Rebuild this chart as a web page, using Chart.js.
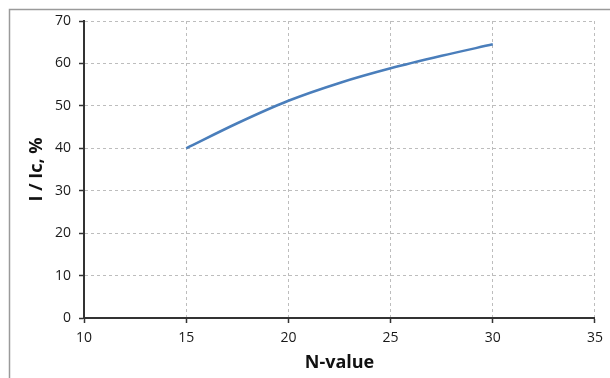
<!DOCTYPE html>
<html>
<head>
<meta charset="utf-8">
<script src="https://cdn.jsdelivr.net/npm/chart.js@4/dist/chart.umd.min.js"></script>
<style>
  html, body { margin: 0; padding: 0; background: #fff; }
  #wrap { position: relative; width: 610px; height: 378px; }
</style>
</head>
<body>
<div id="wrap"><canvas id="c"></canvas></div>
<script>
// N-value and the corresponding current ratio I / Ic in percent
const nValues = [15, 17.5, 20, 22.5, 25, 27.5, 30];
const currentRatio = [40, 45.9, 51.2, 55.4, 58.85, 61.8, 64.5];
const xTicks = [10, 15, 20, 25, 30, 35];
const yTicks = [0, 10, 20, 30, 40, 50, 60, 70];

const points = nValues.map((n, i) => ({ x: n, y: currentRatio[i] }));

// Outer frame of the chart area (top and left edges)
const framePlugin = {
  id: 'frame',
  beforeDraw(chart) {
    const ctx = chart.ctx;
    ctx.save();
    ctx.strokeStyle = '#9a9a9a';
    ctx.lineWidth = 1.5;
    ctx.beginPath();
    ctx.moveTo(9.5, chart.height);
    ctx.lineTo(9.5, 9.5);
    ctx.lineTo(chart.width, 9.5);
    ctx.stroke();
    ctx.restore();
  }
};

const tickFont = { family: "'Open Sans', 'Liberation Sans', sans-serif", size: 14 };
const titleFont = { family: "'Open Sans', 'Liberation Sans', sans-serif", size: 18, weight: 'bold' };

new Chart(document.getElementById('c'), {
  type: 'line',
  data: {
    datasets: [{
      data: points,
      borderColor: '#4a7ebb',
      borderWidth: 2.5,
      pointRadius: 0,
      cubicInterpolationMode: 'monotone',
      fill: false
    }]
  },
  options: {
    responsive: true,
    maintainAspectRatio: false,
    animation: false,
    layout: { padding: { left: 0, right: 14, top: 21, bottom: 0 } },
    plugins: { legend: { display: false }, tooltip: { enabled: false } },
    scales: {
      x: {
        type: 'linear',
        min: 10, max: 35,
        afterBuildTicks(scale) { scale.ticks = xTicks.map(v => ({ value: v })); },
        afterFit(scale) { scale.height = 60; },
        grid: {
          color: '#bdbdbd', lineWidth: 1,
          tickLength: 5, tickColor: '#333', tickBorderDash: [], tickWidth: 1.5
        },
        border: { display: true, color: '#333', width: 2, dash: [3, 3] },
        ticks: { font: tickFont, color: '#1a1a1a', padding: 7, maxRotation: 0 },
        title: {
          display: true, text: 'N-value', font: titleFont, color: '#111',
          padding: { top: 0, bottom: 4 }
        }
      },
      y: {
        type: 'linear',
        min: 0, max: 70,
        afterBuildTicks(scale) { scale.ticks = yTicks.map(v => ({ value: v })); },
        afterFit(scale) { scale.width = 84; },
        grid: {
          color: '#bdbdbd', lineWidth: 1,
          tickLength: 5, tickColor: '#333', tickBorderDash: [], tickWidth: 1.5
        },
        border: { display: true, color: '#333', width: 2, dash: [3, 3] },
        ticks: { font: tickFont, color: '#1a1a1a', padding: 8 },
        title: {
          display: true, text: 'I / Ic, %', font: titleFont, color: '#111',
          padding: { top: 26, bottom: 0 }
        }
      }
    }
  },
  plugins: [framePlugin]
});
</script>
</body>
</html>
